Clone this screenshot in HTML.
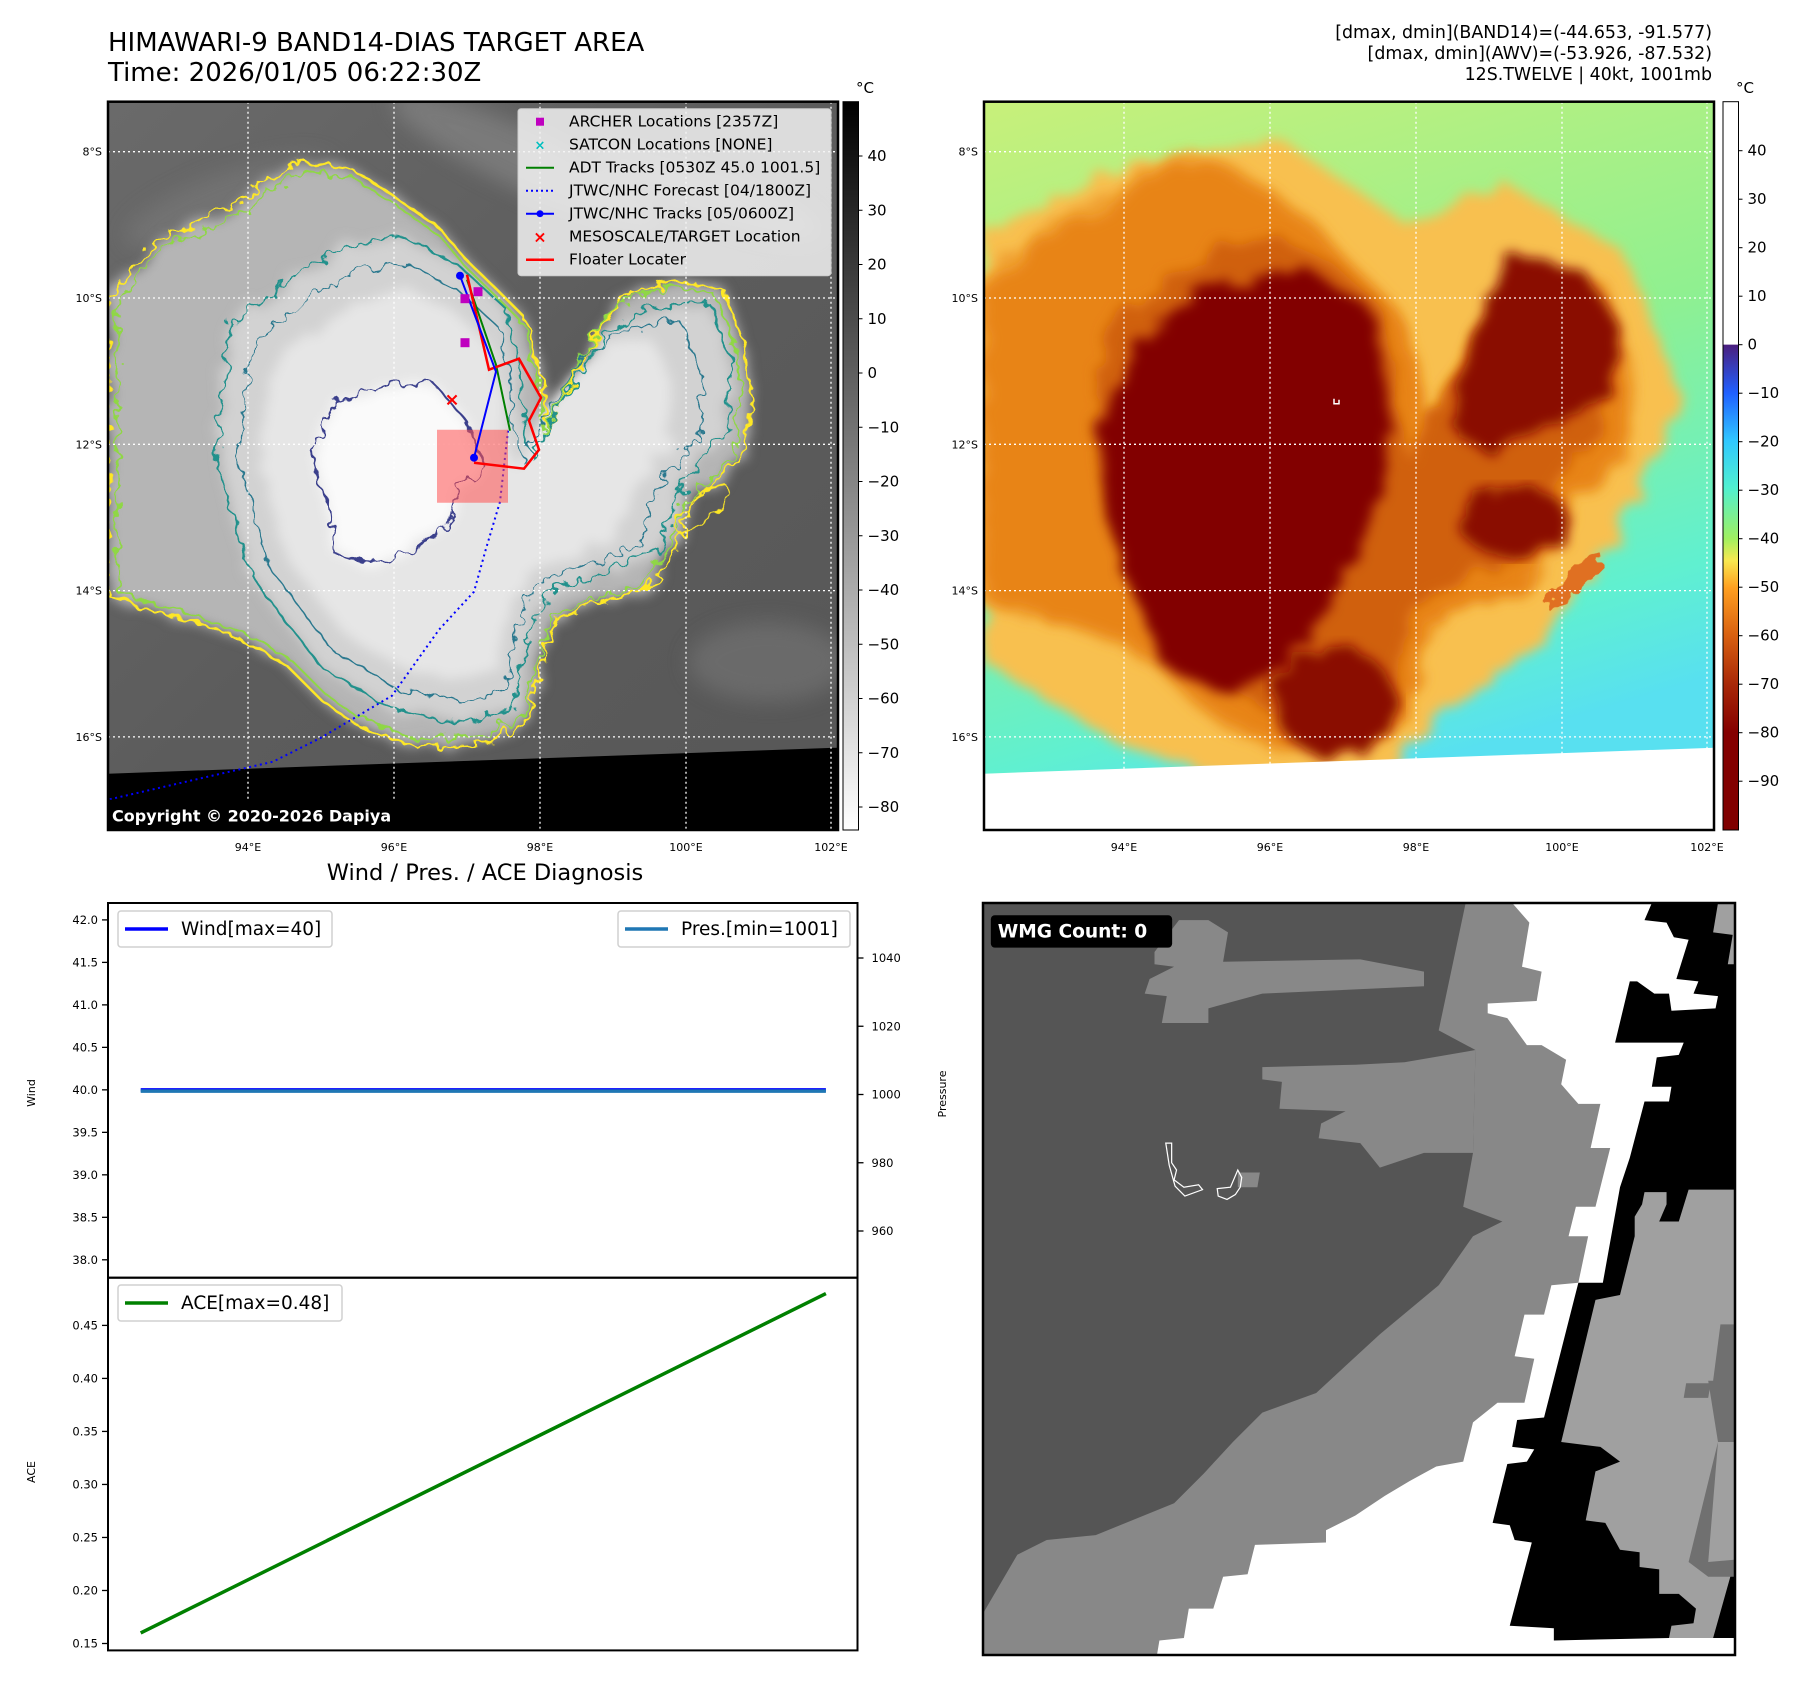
<!DOCTYPE html>
<html><head><meta charset="utf-8">
<style>
html,body{margin:0;padding:0;background:#fff;}
svg{display:block;font-family:"DejaVu Sans","Liberation Sans",sans-serif;}
</style></head>
<body>
<svg id="root" width="1801" height="1690" viewBox="0 0 1801 1690" xmlns="http://www.w3.org/2000/svg">
<defs>
  <clipPath id="clip1"><rect x="0" y="0" width="730" height="728.3"/></clipPath>
  <filter id="wob" x="-10%" y="-10%" width="120%" height="120%">
    <feTurbulence type="fractalNoise" baseFrequency="0.08" numOctaves="2" seed="3"/>
    <feDisplacementMap in="SourceGraphic" scale="18"/>
  </filter>
  <filter id="wobblur" x="-10%" y="-10%" width="120%" height="120%">
    <feTurbulence type="fractalNoise" baseFrequency="0.04" numOctaves="2" seed="5"/>
    <feDisplacementMap in="SourceGraphic" scale="22" result="d"/>
    <feGaussianBlur in="d" stdDeviation="6"/>
  </filter>
  <filter id="blur8"><feGaussianBlur stdDeviation="10"/></filter>
  <linearGradient id="cb1" x1="0" y1="0" x2="0" y2="1">
    <stop offset="0" stop-color="#000"/><stop offset="1" stop-color="#fff"/>
  </linearGradient>
  <linearGradient id="cb2" x1="0" y1="0" x2="0" y2="1">
    <stop offset="0" stop-color="#fff"/>
    <stop offset="0.333" stop-color="#fff"/>
    <stop offset="0.334" stop-color="#4b1f7f"/>
    <stop offset="0.40" stop-color="#2060ff"/>
    <stop offset="0.466" stop-color="#30c8ff"/>
    <stop offset="0.53" stop-color="#50f0d0"/>
    <stop offset="0.60" stop-color="#a0f060"/>
    <stop offset="0.63" stop-color="#f8e850"/>
    <stop offset="0.667" stop-color="#ffa020"/>
    <stop offset="0.733" stop-color="#d86010"/>
    <stop offset="0.80" stop-color="#a82808"/>
    <stop offset="0.866" stop-color="#840000"/>
    <stop offset="1" stop-color="#800000"/>
  </linearGradient>
  <linearGradient id="bg2" x1="0" y1="0" x2="0.3" y2="1">
    <stop offset="0" stop-color="#c8f07a"/>
    <stop offset="0.5" stop-color="#90f090"/>
    <stop offset="0.85" stop-color="#60f0d0"/>
    <stop offset="1" stop-color="#58e0f0"/>
  </linearGradient>
  <linearGradient id="bg1" x1="0" y1="0" x2="1" y2="1">
    <stop offset="0" stop-color="#6a6a6a"/>
    <stop offset="0.5" stop-color="#5c5c5c"/>
    <stop offset="1" stop-color="#575757"/>
  </linearGradient>
</defs>

<!-- Titles -->
<text x="108" y="51" font-size="26">HIMAWARI-9 BAND14-DIAS TARGET AREA</text>
<text x="108" y="81" font-size="26">Time: 2026/01/05 06:22:30Z</text>
<g font-size="17.4" text-anchor="end">
  <text x="1712" y="38">[dmax, dmin](BAND14)=(-44.653, -91.577)</text>
  <text x="1712" y="59">[dmax, dmin](AWV)=(-53.926, -87.532)</text>
  <text x="1712" y="80">12S.TWELVE | 40kt, 1001mb</text>
</g>

<!-- MAP 1 grayscale -->
<g id="map1" transform="translate(108,101.7)">
  <g clip-path="url(#clip1)">
    <rect width="730" height="728.3" fill="url(#bg1)"/>
    <g filter="url(#blur8)" opacity="0.6">
      <ellipse cx="420" cy="60" rx="150" ry="30" fill="#8a8a8a" transform="rotate(25 420 60)"/>
      <ellipse cx="600" cy="90" rx="120" ry="25" fill="#8a8a8a" transform="rotate(20 600 90)"/>
      <ellipse cx="120" cy="100" rx="110" ry="30" fill="#7a7a7a" transform="rotate(-20 120 100)"/>
      <ellipse cx="660" cy="560" rx="80" ry="40" fill="#777"/>
    </g>
    <g id="cloudGray"></g>
    <polygon points="0,672 730,646 730,730 0,730" fill="#000"/>
    <g id="grid1"></g>
    <g id="tracks"></g>
    <rect x="0" y="698" width="298" height="30" fill="#000"/>
    <text x="4" y="720" fill="#fff" font-size="16" font-weight="bold">Copyright © 2020-2026 Dapiya</text>
  </g>
  <rect width="730" height="728.3" fill="none" stroke="#000" stroke-width="2.5"/>
  <!-- legend -->
  <g>
    <rect x="410" y="7" width="313" height="167" rx="3" fill="#f2f2f2" fill-opacity="0.85" stroke="#ccc"/>
    <g font-size="15.5">
      <rect x="428" y="16" width="8" height="8" fill="#bf00bf"/>
      <text x="461" y="25">ARCHER Locations [2357Z]</text>
      <text x="432" y="48" fill="#00bfbf" font-size="13" text-anchor="middle" font-weight="bold">×</text>
      <text x="461" y="48">SATCON Locations [NONE]</text>
      <line x1="418" y1="66" x2="446" y2="66" stroke="#008000" stroke-width="2"/>
      <text x="461" y="71">ADT Tracks [0530Z 45.0 1001.5]</text>
      <line x1="418" y1="89" x2="446" y2="89" stroke="#0000ff" stroke-width="2" stroke-dasharray="2,3"/>
      <text x="461" y="94">JTWC/NHC Forecast [04/1800Z]</text>
      <line x1="418" y1="112" x2="446" y2="112" stroke="#0000ff" stroke-width="2"/>
      <circle cx="432" cy="112" r="3.5" fill="#0000ff"/>
      <text x="461" y="117">JTWC/NHC Tracks [05/0600Z]</text>
      <text x="432" y="141" fill="#f00" font-size="16" text-anchor="middle" font-weight="bold">×</text>
      <text x="461" y="140">MESOSCALE/TARGET Location</text>
      <line x1="418" y1="158" x2="446" y2="158" stroke="#f00" stroke-width="2.5"/>
      <text x="461" y="163">Floater Locater</text>
    </g>
  </g>
</g>
<g id="lab1" font-size="11"></g>

<!-- Colorbar 1 -->
<g>
  <rect x="843" y="101.7" width="15.5" height="728.3" fill="url(#cb1)" stroke="#000" stroke-width="1"/>
  <text x="856" y="93" font-size="15">°C</text>
  <g id="cb1ticks" font-size="15"></g>
</g>

<!-- MAP 2 color -->
<g id="map2" transform="translate(984,101.7)">
  <g clip-path="url(#clip1)">
    <rect width="730" height="728.3" fill="url(#bg2)"/>
    <g id="cloudColor"></g>
    <polygon points="0,672 730,646 730,730 0,730" fill="#fff"/>
    <path d="M350 297 l0 5 l5 0 l0 -4" stroke="#fff" fill="none" stroke-width="1.5"/>
    <g id="grid2"></g>
  </g>
  <rect width="730" height="728.3" fill="none" stroke="#000" stroke-width="2.5"/>
</g>
<g id="lab2" font-size="11"></g>

<!-- Colorbar 2 -->
<g>
  <rect x="1723" y="101.7" width="15.5" height="728.3" fill="url(#cb2)" stroke="#000" stroke-width="1"/>
  <text x="1736" y="93" font-size="15">°C</text>
  <g id="cb2ticks" font-size="15"></g>
</g>

<!-- Bottom-left chart -->
<text x="485" y="880" font-size="22.5" text-anchor="middle">Wind / Pres. / ACE Diagnosis</text>
<g id="chart"></g>

<!-- Bottom-right WMG panel -->
<g>
  <g transform="translate(983,903) scale(0.49)">
    <rect x="0" y="0" width="1535" height="1535" fill="#555"/>
    <polygon fill="#888" points="985,0 930,260 1005,300 1000,510 980,620 1060,650 1000,680 930,780 810,880 680,1000 570,1040 510,1100 450,1165 390,1225 230,1290 130,1300 70,1330 0,1450 0,1535 1300,1535 1300,0"/>
    <polygon fill="#888" points="570,335 760,330 860,325 1005,300 1000,510 900,510 810,540 770,490 685,480 690,450 740,425 605,420 610,365 570,360"/>
    <polygon fill="#888" points="350,100 400,35 460,35 500,60 490,120 770,115 900,140 900,170 570,185 460,215 460,245 365,245 375,190 330,185 340,155 390,130 350,125"/>
    <polygon fill="#fff" points="1080,0 1115,40 1100,130 1140,140 1130,200 1030,205 1030,225 1070,235 1110,290 1140,290 1190,320 1180,370 1215,410 1260,410 1240,500 1280,500 1250,620 1210,620 1195,680 1235,680 1215,775 1160,780 1145,840 1105,840 1085,925 1125,930 1105,1020 1050,1020 1000,1060 980,1140 925,1150 870,1180 820,1210 760,1250 700,1280 700,1305 555,1310 540,1370 490,1375 470,1440 420,1440 410,1500 360,1505 355,1535 1535,1535 1535,0"/>
    <polygon fill="#000" points="1365,0 1350,35 1395,40 1410,70 1440,75 1415,155 1460,160 1450,185 1500,190 1495,215 1405,220 1400,185 1370,185 1335,160 1320,160 1290,285 1430,285 1420,310 1375,315 1365,375 1405,375 1400,405 1350,405 1320,520 1300,580 1265,775 1215,775 1145,1050 1090,1055 1080,1110 1125,1115 1110,1140 1070,1145 1040,1265 1075,1270 1085,1300 1120,1305 1075,1475 1165,1480 1165,1505 1400,1500 1535,1500 1535,0"/>
    <polygon fill="#a0a0a0" points="1500,0 1490,60 1530,65 1520,125 1535,125 1535,0"/>
    <polygon fill="#a0a0a0" points="1350,590 1395,590 1395,615 1380,650 1420,650 1440,585 1535,585 1535,1340 1490,1500 1400,1500 1405,1475 1450,1470 1455,1440 1420,1410 1380,1410 1380,1360 1340,1355 1340,1325 1300,1320 1270,1265 1230,1260 1250,1160 1300,1140 1260,1110 1180,1100 1250,810 1300,800 1330,680 1330,640 1345,615"/>
    <polygon fill="#707070" points="1505,860 1535,860 1535,1100 1500,1100 1440,1345 1480,1375 1535,1375 1535,1340 1480,1345 1500,1100 1480,975 1490,975"/>
    <polygon fill="#707070" points="1435,980 1485,980 1480,1010 1430,1010"/>
    <polygon fill="#888" points="520,550 565,550 560,580 520,580"/>
    <path d="M373 490 L385 490 L385 530 L395 545 L390 565 L410 580 L440 575 L448 585 L412 598 L392 578 L380 535 Z" fill="none" stroke="#fff" stroke-width="2.5"/>
    <path d="M478 583 L505 580 L520 545 L528 560 L525 580 L515 595 L498 605 L480 598 Z" fill="none" stroke="#fff" stroke-width="2.5"/>
    <rect x="16" y="25" width="370" height="66" rx="8" fill="#000"/>
    <text x="30" y="70" fill="#fff" font-size="38" font-weight="bold">WMG Count: 0</text>
  </g>
  <rect x="983" y="903" width="752" height="752" fill="none" stroke="#000" stroke-width="2.5"/>
</g>

<script>
// ---------- chart data ----------
const timeIdx = [0, 1];
const windVals = [40, 40];
const presVals = [1001, 1001];
const aceVals = [0.16, 0.48];
const windTicks = [38.0, 38.5, 39.0, 39.5, 40.0, 40.5, 41.0, 41.5, 42.0];
const presTicks = [960, 980, 1000, 1020, 1040];
const aceTicks = [0.15, 0.20, 0.25, 0.30, 0.35, 0.40, 0.45];
const cb1Ticks = [40, 30, 20, 10, 0, -10, -20, -30, -40, -50, -60, -70, -80];
const cb2Ticks = [40, 30, 20, 10, 0, -10, -20, -30, -40, -50, -60, -70, -80, -90];
const latTicks = ["8°S", "10°S", "12°S", "14°S", "16°S"];
const lonTicks = ["94°E", "96°E", "98°E", "100°E", "102°E"];

const NS = "http://www.w3.org/2000/svg";
function mk(tag, attrs, parent) {
  const e = document.createElementNS(NS, tag);
  for (const k in attrs) e.setAttribute(k, attrs[k]);
  if (parent) parent.appendChild(e);
  return e;
}
function pts(a) { return a.map(p => p.join(",")).join(" "); }

// ---------- map geometry (map-local px) ----------
const yellowC = [[0,197],[47,140],[128,102],[189,59],[246,69],[284,93],[331,126],[359,159],[388,187],[416,215],[435,282],[440,329],[473,263],[511,197],[567,178],[615,187],[634,234],[643,291],[634,357],[586,400],[567,447],[544,485],[496,499],[449,518],[426,589],[416,622],[378,641],[307,646],[246,622],[213,598],[180,565],[142,542],[95,523],[47,509],[0,494]];
const tealC = [[113,305],[123,225],[180,178],[236,145],[293,135],[350,163],[397,206],[411,263],[416,329],[426,357],[454,301],[496,234],[544,206],[600,201],[624,258],[619,329],[577,376],[553,447],[496,471],[440,490],[416,542],[407,608],[359,622],[284,608],[213,565],[180,523],[142,471],[123,405],[109,357]];
const navyC = [[203,348],[227,301],[284,282],[326,282],[359,320],[378,367],[350,386],[340,424],[303,452],[255,461],[227,452],[222,405],[213,386]];
function scalePts(a, s, cx, cy) { return a.map(p => [cx + (p[0]-cx)*s, cy + (p[1]-cy)*s]); }

// Gray map clouds
const cg = document.getElementById("cloudGray");
mk("polygon", {points: pts(yellowC), fill: "#b5b5b5", filter: "url(#wobblur)"}, cg);
mk("polygon", {points: pts(tealC), fill: "#d2d2d2", filter: "url(#wobblur)"}, cg);
mk("polygon", {points: pts(scalePts(tealC, 0.8, 330, 400)), fill: "#e6e6e6", filter: "url(#wobblur)"}, cg);
mk("polygon", {points: pts(navyC), fill: "#fafafa", filter: "url(#wobblur)"}, cg);
let c;
c = mk("polygon", {points: pts(yellowC), fill: "none", stroke: "#fde725", "stroke-width": 2.5, filter: "url(#wob)"}, cg);


c = mk("polygon", {points: pts(scalePts(yellowC, 0.97, 330, 380)), fill: "none", stroke: "#8fd744", "stroke-width": 2, filter: "url(#wob)"}, cg);


c = mk("polygon", {points: pts(tealC), fill: "none", stroke: "#21918c", "stroke-width": 2, filter: "url(#wob)"}, cg);


c = mk("polygon", {points: pts(scalePts(tealC, 0.9, 330, 400)), fill: "none", stroke: "#2a788e", "stroke-width": 1.5, filter: "url(#wob)"}, cg);


c = mk("polygon", {points: pts(navyC), fill: "none", stroke: "#3b3f8c", "stroke-width": 2, filter: "url(#wob)"}, cg);


mk("ellipse", {cx: 595, cy: 407, rx: 35, ry: 12, fill: "none", stroke: "#fde725", "stroke-width": 2, transform: "rotate(-40 595 407)", filter: "url(#wob)"}, cg);

// Color map clouds
const cc = document.getElementById("cloudColor");
mk("polygon", {points: pts([[0,130],[150,60],[300,40],[420,120],[520,80],[640,150],[700,300],[640,420],[560,540],[450,620],[380,700],[250,680],[130,640],[0,560]]), fill: "#f8c050", filter: "url(#wobblur)"}, cc);
mk("polygon", {points: pts(scalePts(yellowC, 1.03, 330, 380)), fill: "#f0a030", filter: "url(#wobblur)"}, cc);
mk("polygon", {points: pts(yellowC), fill: "#e88418", filter: "url(#wobblur)"}, cc);
mk("polygon", {points: pts(tealC), fill: "#d06010", filter: "url(#wobblur)"}, cc);
mk("polygon", {points: pts([[115,330],[150,245],[225,185],[320,165],[385,205],[405,300],[400,380],[385,440],[345,500],[305,565],[240,595],[180,565],[145,480],[118,400]]), fill: "#820000", filter: "url(#wobblur)"}, cc);
mk("polygon", {points: pts([[520,150],[600,170],[640,230],[620,300],[560,330],[500,350],[470,330],[480,260]]), fill: "#8a0800", filter: "url(#wobblur)"}, cc);
mk("ellipse", {cx: 530, cy: 420, rx: 55, ry: 35, fill: "#8a0800", filter: "url(#wobblur)"}, cc);
mk("ellipse", {cx: 350, cy: 600, rx: 60, ry: 55, fill: "#8a0800", filter: "url(#wobblur)"}, cc);
mk("ellipse", {cx: 590, cy: 480, rx: 40, ry: 10, fill: "#e07020", transform: "rotate(-45 590 480)", filter: "url(#wob)"}, cc);

// Gridlines & labels
const gridX = [140, 286, 432, 578, 723];
const gridY = [50, 196.3, 342.6, 488.9, 635.2];
function grid(id) {
  const g = document.getElementById(id);
  gridX.forEach(x => mk("line", {x1: x, y1: 0, x2: x, y2: 730, stroke: "#fff", "stroke-width": 1.3, "stroke-dasharray": "2,3"}, g));
  gridY.forEach(y => mk("line", {x1: 0, y1: y, x2: 730, y2: y, stroke: "#fff", "stroke-width": 1.3, "stroke-dasharray": "2,3"}, g));
}
grid("grid1"); grid("grid2");
function labels(id, ox) {
  const g = document.getElementById(id);
  latTicks.forEach((t, i) => { const e = mk("text", {x: ox - 6, y: 101.7 + gridY[i] + 4, "text-anchor": "end"}, g); e.textContent = t; });
  lonTicks.forEach((t, i) => { const e = mk("text", {x: ox + gridX[i], y: 851, "text-anchor": "middle"}, g); e.textContent = t; });
}
labels("lab1", 108); labels("lab2", 984);

// Tracks on map 1
const tr = document.getElementById("tracks");
mk("polyline", {points: pts([[400,329],[392,400],[378,447],[366,490],[331,528],[284,594],[213,636],[165,660],[0,698]]), fill: "none", stroke: "#0000ff", "stroke-width": 2, "stroke-dasharray": "2,3.5"}, tr);
mk("polygon", {points: pts([[329,328],[400,328],[400,401],[329,401]]), fill: "#ff5050", "fill-opacity": 0.55}, tr);
mk("polyline", {points: pts([[359,178],[388,263],[402,329]]), fill: "none", stroke: "#008000", "stroke-width": 2}, tr);
mk("polyline", {points: pts([[359,173],[381,268],[411,257],[433,296],[421,319],[431,348],[416,367],[366,361]]), fill: "none", stroke: "#ff0000", "stroke-width": 2.5}, tr);
mk("polyline", {points: pts([[352,174],[388,270],[366,356]]), fill: "none", stroke: "#0000ff", "stroke-width": 2}, tr);
mk("circle", {cx: 352, cy: 174, r: 4, fill: "#0000ff"}, tr);
mk("circle", {cx: 366, cy: 356, r: 4, fill: "#0000ff"}, tr);
[[357,197],[370,190],[357,241]].forEach(p => mk("rect", {x: p[0]-4.5, y: p[1]-4.5, width: 9, height: 9, fill: "#bf00bf"}, tr));
const rx = mk("text", {x: 344, y: 304, fill: "#f00", "font-size": 18, "font-weight": "bold", "text-anchor": "middle"}, tr); rx.textContent = "×";

// Colorbar ticks
function cbTicks(id, ticks, x, y0, v0, ppu) {
  const g = document.getElementById(id);
  ticks.forEach(v => {
    const y = y0 + (v0 - v) * ppu;
    mk("line", {x1: x, y1: y, x2: x + 4, y2: y, stroke: "#000", "stroke-width": 1}, g);
    const t = mk("text", {x: x + 9, y: y + 5}, g);
    t.textContent = v === 0 ? "0" : (v < 0 ? "\u2212" + Math.abs(v) : String(v));
  });
}
cbTicks("cb1ticks", cb1Ticks, 858.5, 156, 40, 5.425);
cbTicks("cb2ticks", cb2Ticks, 1738.5, 150.7, 40, 4.85);

// ---------- Diagnosis chart ----------
const ch = document.getElementById("chart");
const L = 108, R = 857.5, T = 903, M = 1277.7, B = 1650.4;
const xS = i => 140.7 + (i - timeIdx[0]) / (timeIdx[timeIdx.length-1] - timeIdx[0]) * (825.9 - 140.7);
const wS = v => 1259.8 - (v - 38) / 4 * (1259.8 - 919.9);
const pS = v => 1231 - (v - 960) / 80 * (1231 - 958);
const aS = v => 1643.5 - (v - 0.15) / 0.30 * (1643.5 - 1325.4);
mk("rect", {x: L, y: T, width: R - L, height: B - T, fill: "#fff"}, ch);
function yTicks(ticks, sc, fmt, right) {
  ticks.forEach(v => {
    const y = sc(v);
    if (right) {
      mk("line", {x1: R, y1: y, x2: R + 6, y2: y, stroke: "#000", "stroke-width": 1.3}, ch);
      const t = mk("text", {x: R + 14, y: y + 4, "font-size": 11.5}, ch); t.textContent = fmt(v);
    } else {
      mk("line", {x1: L - 6, y1: y, x2: L, y2: y, stroke: "#000", "stroke-width": 1.3}, ch);
      const t = mk("text", {x: L - 10, y: y + 4, "font-size": 11.5, "text-anchor": "end"}, ch); t.textContent = fmt(v);
    }
  });
}
yTicks(windTicks, wS, v => v.toFixed(1), false);
yTicks(presTicks, pS, v => String(v), true);
yTicks(aceTicks, aS, v => v.toFixed(2), false);
let lab;
lab = mk("text", {x: 0, y: 0, "font-size": 11, "text-anchor": "middle", transform: "translate(35,1093) rotate(-90)"}, ch); lab.textContent = "Wind";


lab = mk("text", {x: 0, y: 0, "font-size": 11, "text-anchor": "middle", transform: "translate(946,1094) rotate(-90)"}, ch); lab.textContent = "Pressure";


lab = mk("text", {x: 0, y: 0, "font-size": 11, "text-anchor": "middle", transform: "translate(35,1472) rotate(-90)"}, ch); lab.textContent = "ACE";



let ln;
ln = mk("polyline", {points: timeIdx.map((t, i) => xS(t) + "," + wS(windVals[i])).join(" "), fill: "none", stroke: "#0000ff", "stroke-width": 3.5}, ch);


ln = mk("polyline", {points: timeIdx.map((t, i) => xS(t) + "," + pS(presVals[i])).join(" "), fill: "none", stroke: "#1f77b4", "stroke-width": 3.5}, ch);


ln = mk("polyline", {points: timeIdx.map((t, i) => xS(t) + "," + aS(aceVals[i])).join(" "), fill: "none", stroke: "#008000", "stroke-width": 3.5}, ch);



mk("rect", {x: L, y: T, width: R - L, height: M - T, fill: "none", stroke: "#000", "stroke-width": 2}, ch);
mk("rect", {x: L, y: M, width: R - L, height: B - M, fill: "none", stroke: "#000", "stroke-width": 2}, ch);

function legend(x, y, w, color, text, name) {
  const g = mk("g", {}, ch);
  
  
  mk("rect", {x: x, y: y, width: w, height: 36, rx: 3, fill: "#fff", stroke: "#d0d0d0", "stroke-width": 1.5}, g);
  mk("line", {x1: x + 7, y1: y + 18, x2: x + 50, y2: y + 18, stroke: color, "stroke-width": 3.5}, g);
  const t = mk("text", {x: x + 63, y: y + 24, "font-size": 18.5}, g); t.textContent = text;
}
legend(118, 911, 214, "#0000ff", "Wind[max=40]", "wind-legend");
legend(618, 911, 232, "#1f77b4", "Pres.[min=1001]", "pressure-legend");
legend(118, 1285, 224, "#008000", "ACE[max=0.48]", "ace-legend");
</script>
</svg>
</body></html>
